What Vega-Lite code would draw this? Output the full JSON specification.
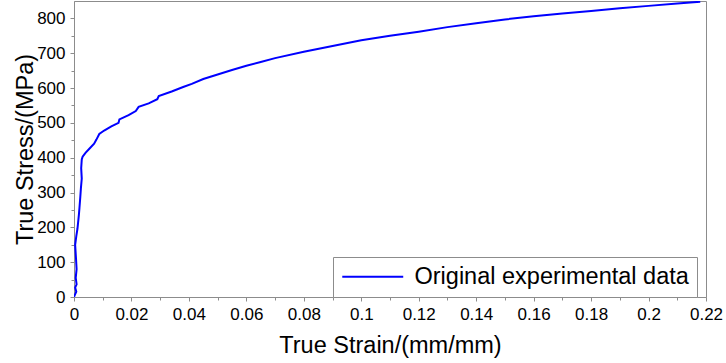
{
  "$schema": "https://vega.github.io/schema/vega-lite/v6.json",
  "autosize": "none",
  "width": 632,
  "height": 296,
  "padding": {"left": 74, "top": 1, "right": 20, "bottom": 66},
  "background": "white",
  "config": {
    "font": "Liberation Sans",
    "view": {"stroke": "#8c8c8c", "strokeWidth": 1},
    "axis": {
      "grid": false,
      "labelFlush": false,
      "domainColor": "#8c8c8c",
      "tickColor": "#8c8c8c",
      "labelColor": "black",
      "titleColor": "black",
      "labelFont": "Liberation Sans",
      "titleFont": "Liberation Sans",
      "labelFontSize": 17,
      "titleFontSize": 23.5,
      "titleFontWeight": "normal"
    },
    "legend": {
      "labelFont": "Liberation Sans",
      "labelFontSize": 23.5,
      "labelColor": "black"
    }
  },
  "data": {
    "values": [
      {"strain": 0.0, "stress": 0, "series": "Original experimental data"},
      {"strain": 0.0003, "stress": 6, "series": "Original experimental data"},
      {"strain": 0.0008, "stress": 15, "series": "Original experimental data"},
      {"strain": 0.0004, "stress": 27, "series": "Original experimental data"},
      {"strain": 0.0009, "stress": 36, "series": "Original experimental data"},
      {"strain": 0.0006, "stress": 55, "series": "Original experimental data"},
      {"strain": 0.0009, "stress": 80, "series": "Original experimental data"},
      {"strain": 0.0007, "stress": 110, "series": "Original experimental data"},
      {"strain": 0.0004, "stress": 150, "series": "Original experimental data"},
      {"strain": 0.0008, "stress": 175, "series": "Original experimental data"},
      {"strain": 0.0012, "stress": 196, "series": "Original experimental data"},
      {"strain": 0.0017, "stress": 236, "series": "Original experimental data"},
      {"strain": 0.0019, "stress": 256, "series": "Original experimental data"},
      {"strain": 0.0022, "stress": 288, "series": "Original experimental data"},
      {"strain": 0.0024, "stress": 312, "series": "Original experimental data"},
      {"strain": 0.0027, "stress": 340, "series": "Original experimental data"},
      {"strain": 0.0025, "stress": 370, "series": "Original experimental data"},
      {"strain": 0.0027, "stress": 395, "series": "Original experimental data"},
      {"strain": 0.003, "stress": 403, "series": "Original experimental data"},
      {"strain": 0.004, "stress": 414, "series": "Original experimental data"},
      {"strain": 0.0055, "stress": 427, "series": "Original experimental data"},
      {"strain": 0.007, "stress": 440, "series": "Original experimental data"},
      {"strain": 0.0078, "stress": 452, "series": "Original experimental data"},
      {"strain": 0.0088, "stress": 468, "series": "Original experimental data"},
      {"strain": 0.0105, "stress": 478, "series": "Original experimental data"},
      {"strain": 0.013, "stress": 490, "series": "Original experimental data"},
      {"strain": 0.0155, "stress": 500, "series": "Original experimental data"},
      {"strain": 0.0158, "stress": 510, "series": "Original experimental data"},
      {"strain": 0.019, "stress": 522, "series": "Original experimental data"},
      {"strain": 0.0215, "stress": 534, "series": "Original experimental data"},
      {"strain": 0.0225, "stress": 546, "series": "Original experimental data"},
      {"strain": 0.026, "stress": 556, "series": "Original experimental data"},
      {"strain": 0.029, "stress": 568, "series": "Original experimental data"},
      {"strain": 0.0295, "stress": 577, "series": "Original experimental data"},
      {"strain": 0.034, "stress": 590, "series": "Original experimental data"},
      {"strain": 0.038, "stress": 603, "series": "Original experimental data"},
      {"strain": 0.041, "stress": 612, "series": "Original experimental data"},
      {"strain": 0.045, "stress": 626, "series": "Original experimental data"},
      {"strain": 0.05, "stress": 639, "series": "Original experimental data"},
      {"strain": 0.055, "stress": 652, "series": "Original experimental data"},
      {"strain": 0.06, "stress": 664, "series": "Original experimental data"},
      {"strain": 0.065, "stress": 675, "series": "Original experimental data"},
      {"strain": 0.07, "stress": 686, "series": "Original experimental data"},
      {"strain": 0.08, "stress": 704, "series": "Original experimental data"},
      {"strain": 0.09, "stress": 721, "series": "Original experimental data"},
      {"strain": 0.1, "stress": 737, "series": "Original experimental data"},
      {"strain": 0.11, "stress": 750, "series": "Original experimental data"},
      {"strain": 0.12, "stress": 762, "series": "Original experimental data"},
      {"strain": 0.13, "stress": 775, "series": "Original experimental data"},
      {"strain": 0.14, "stress": 786, "series": "Original experimental data"},
      {"strain": 0.15, "stress": 797, "series": "Original experimental data"},
      {"strain": 0.16, "stress": 806, "series": "Original experimental data"},
      {"strain": 0.17, "stress": 814, "series": "Original experimental data"},
      {"strain": 0.18, "stress": 821, "series": "Original experimental data"},
      {"strain": 0.19, "stress": 829, "series": "Original experimental data"},
      {"strain": 0.2, "stress": 836, "series": "Original experimental data"},
      {"strain": 0.21, "stress": 843, "series": "Original experimental data"},
      {"strain": 0.218, "stress": 848, "series": "Original experimental data"}
    ]
  },
  "resolve": {"axis": {"x": "independent", "y": "independent"}},
  "layer": [
    {
      "mark": {"type": "line", "strokeWidth": 2, "clip": true, "interpolate": "linear"},
      "encoding": {
        "x": {
          "field": "strain",
          "type": "quantitative",
          "scale": {"domain": [0, 0.22], "nice": false, "zero": false},
          "axis": {
            "title": "True Strain/(mm/mm)",
            "values": [0, 0.02, 0.04, 0.06, 0.08, 0.1, 0.12, 0.14, 0.16, 0.18, 0.2, 0.22],
            "format": "~g",
            "tickSize": 4,
            "labelPadding": 5,
            "titleY": 55,
            "titleBaseline": "alphabetic"
          }
        },
        "y": {
          "field": "stress",
          "type": "quantitative",
          "scale": {"domain": [0, 850], "nice": false, "zero": false},
          "axis": {
            "title": "True Stress/(MPa)",
            "values": [0, 100, 200, 300, 400, 500, 600, 700, 800],
            "tickSize": 4,
            "labelPadding": 5,
            "titleX": -42,
            "titleBaseline": "alphabetic"
          }
        },
        "order": {"field": "idx"},
        "color": {
          "field": "series",
          "type": "nominal",
          "scale": {"range": ["#0000ff"]},
          "legend": {
            "title": null,
            "orient": "none",
            "legendX": 259,
            "legendY": 256,
            "symbolType": "M-3,0H3",
            "symbolSize": 413,
            "symbolStrokeWidth": 2,
            "symbolOffset": 20,
            "labelOffset": 30,
            "labelLimit": 400,
            "padding": 8,
            "fillColor": "white",
            "strokeColor": "#8c8c8c"
          }
        }
      }
    },
    {
      "mark": {"type": "point", "opacity": 0},
      "encoding": {
        "x": {
          "field": "strain",
          "type": "quantitative",
          "scale": {"domain": [0, 0.22], "nice": false, "zero": false},
          "axis": {
            "orient": "bottom",
            "title": null,
            "labels": false,
            "domain": false,
            "values": [0.01, 0.03, 0.05, 0.07, 0.09, 0.11, 0.13, 0.15, 0.17, 0.19, 0.21],
            "tickSize": 3
          }
        },
        "y": {
          "field": "stress",
          "type": "quantitative",
          "scale": {"domain": [0, 850], "nice": false, "zero": false},
          "axis": {
            "orient": "left",
            "title": null,
            "labels": false,
            "domain": false,
            "values": [50, 150, 250, 350, 450, 550, 650, 750],
            "tickSize": 3
          }
        }
      }
    }
  ]
}
